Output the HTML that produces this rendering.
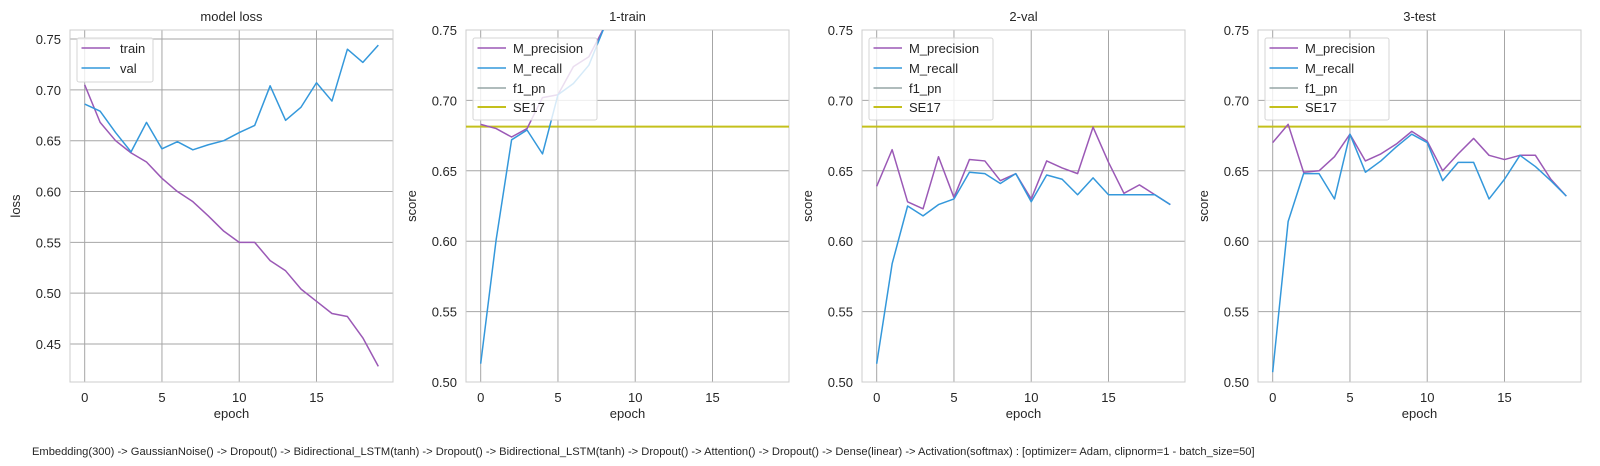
<!DOCTYPE html>
<html><head><meta charset="utf-8"><style>
html,body{margin:0;padding:0;background:#fff;}
svg{display:block;font-family:"Liberation Sans",Arial,sans-serif;}
</style></head><body>
<svg id="fig" width="1600" height="466" viewBox="0 0 1600 466">
<text x="32" y="455" font-size="11.15" fill="#262626">Embedding(300) -&gt; GaussianNoise() -&gt; Dropout() -&gt; Bidirectional_LSTM(tanh) -&gt; Dropout() -&gt; Bidirectional_LSTM(tanh) -&gt; Dropout() -&gt; Attention() -&gt; Dropout() -&gt; Dense(linear) -&gt; Activation(softmax) : [optimizer= Adam, clipnorm=1 - batch_size=50]</text>
</svg>
<script>
const epochs = [0,1,2,3,4,5,6,7,8,9,10,11,12,13,14,15,16,17,18,19];
const lossTrain = [0.705,0.668,0.650,0.638,0.629,0.613,0.600,0.590,0.576,0.561,0.550,0.550,0.532,0.522,0.504,0.492,0.480,0.477,0.456,0.428];
const lossVal = [0.686,0.679,0.658,0.639,0.668,0.642,0.649,0.641,0.646,0.650,0.658,0.665,0.704,0.670,0.683,0.707,0.689,0.740,0.727,0.744];
const trainPrec = [0.683,0.680,0.674,0.680,0.702,0.704,0.724,0.731,0.752,0.765,0.775,0.785,0.792,0.800,0.808,0.815,0.820,0.826,0.832,0.838];
const trainRec = [0.513,0.601,0.672,0.679,0.662,0.704,0.712,0.725,0.752,0.765,0.775,0.785,0.792,0.800,0.808,0.815,0.820,0.826,0.832,0.838];
const valPrec = [0.639,0.665,0.628,0.623,0.660,0.631,0.658,0.657,0.643,0.648,0.630,0.657,0.652,0.648,0.681,0.656,0.634,0.640,0.633,0.626];
const valRec = [0.513,0.584,0.625,0.618,0.626,0.630,0.649,0.648,0.641,0.648,0.628,0.647,0.644,0.633,0.645,0.633,0.633,0.633,0.633,0.626];
const testPrec = [0.670,0.683,0.649,0.650,0.660,0.676,0.657,0.662,0.669,0.678,0.671,0.650,0.662,0.673,0.661,0.658,0.661,0.661,0.644,0.632];
const testRec = [0.507,0.614,0.648,0.648,0.630,0.676,0.649,0.657,0.667,0.676,0.670,0.643,0.656,0.656,0.630,0.644,0.661,0.653,0.643,0.632];
const se17 = 0.6814;
const xTicks = [0,5,10,15];
const lossTicks = [0.45,0.50,0.55,0.60,0.65,0.70,0.75];
const scoreTicks = [0.50,0.55,0.60,0.65,0.70,0.75];

const NS='http://www.w3.org/2000/svg';
const svg=document.getElementById('fig');
const PUR='#9b59b6', BLU='#3498db', GRY='#95a5a6', YEL='#c4c01c';
function mk(tag,attrs,parent){const e=document.createElementNS(NS,tag);for(const k in attrs)e.setAttribute(k,attrs[k]);(parent||svg).appendChild(e);return e;}

const panels=[
 {key:'loss',title:'model loss',left:70,ylabel:'loss',ylabelX:20,ymin:0.4126,ymax:0.7589,ticks:lossTicks,
  series:[{n:'train',d:lossTrain,c:PUR},{n:'val',d:lossVal,c:BLU}],legend:[['train',PUR],['val',BLU]],lw:76,lh:44},
 {key:'train',title:'1-train',left:466,ylabel:'score',ylabelX:416,ymin:0.5,ymax:0.75,ticks:scoreTicks,
  series:[{n:'M_precision',d:trainPrec,c:PUR},{n:'M_recall',d:trainRec,c:BLU}],se:true,legend:[['M_precision',PUR],['M_recall',BLU],['f1_pn',GRY],['SE17',YEL]],lw:124,lh:82},
 {key:'val',title:'2-val',left:862,ylabel:'score',ylabelX:812,ymin:0.5,ymax:0.75,ticks:scoreTicks,
  series:[{n:'M_precision',d:valPrec,c:PUR},{n:'M_recall',d:valRec,c:BLU}],se:true,legend:[['M_precision',PUR],['M_recall',BLU],['f1_pn',GRY],['SE17',YEL]],lw:124,lh:82},
 {key:'test',title:'3-test',left:1258,ylabel:'score',ylabelX:1208,ymin:0.5,ymax:0.75,ticks:scoreTicks,
  series:[{n:'M_precision',d:testPrec,c:PUR},{n:'M_recall',d:testRec,c:BLU}],se:true,legend:[['M_precision',PUR],['M_recall',BLU],['f1_pn',GRY],['SE17',YEL]],lw:124,lh:82}
];
const W=323, TOP=30, BOT=382, XMIN=-0.95, XMAX=19.95;

panels.forEach(p=>{
  const g=mk('g',{});
  
  
  const xs=v=>p.left+(v-XMIN)/(XMAX-XMIN)*W;
  const ys=v=>BOT-(v-p.ymin)/(p.ymax-p.ymin)*(BOT-TOP);
  const cp='clip-'+p.key;
  const cl=mk('clipPath',{id:cp},g); mk('rect',{x:p.left,y:TOP,width:W,height:BOT-TOP},cl);
  xTicks.forEach(t=>{
    const l=mk('line',{x1:xs(t),x2:xs(t),y1:TOP,y2:BOT,stroke:'#a6a6a6','stroke-width':1},g);
     
    const tx=mk('text',{x:xs(t),y:402,'font-size':13,fill:'#262626','text-anchor':'middle'},g); tx.textContent=t;
     
  });
  p.ticks.forEach(t=>{
    const l=mk('line',{x1:p.left,x2:p.left+W,y1:ys(t),y2:ys(t),stroke:'#a6a6a6','stroke-width':1},g);
     
    const tx=mk('text',{x:p.left-9,y:ys(t)+5,'font-size':13,fill:'#262626','text-anchor':'end'},g); tx.textContent=t.toFixed(2);
     
  });
  const fr=mk('rect',{x:p.left,y:TOP,width:W,height:BOT-TOP,fill:'none',stroke:'#cccccc','stroke-width':1},g);
   
  const lines=mk('g',{'clip-path':'url(#'+cp+')'},g);
  if(p.se){
    const s=mk('line',{x1:p.left,x2:p.left+W,y1:ys(se17),y2:ys(se17),stroke:YEL,'stroke-width':2},lines);
     
  }
  p.series.forEach(s=>{
    const pts=s.d.map((v,i)=>xs(epochs[i]).toFixed(2)+','+ys(v).toFixed(2)).join(' ');
    const pl=mk('polyline',{points:pts,fill:'none',stroke:s.c,'stroke-width':1.5,'stroke-linejoin':'round'},lines);
     
  });
  const lg=mk('g',{},g);
   
  mk('rect',{x:p.left+7,y:38,width:p.lw,height:p.lh,rx:2,fill:'rgba(255,255,255,0.8)',stroke:'#d6d6d6','stroke-width':1},lg);
  const rowY=[48,68,88,107];
  p.legend.forEach((e,i)=>{
    const y=p.legend.length==2?[48,68][i]:rowY[i];
    const ln=mk('line',{x1:p.left+8+3.5,x2:p.left+8+32,y1:y,y2:y,stroke:e[1],'stroke-width':e[0]==='SE17'?2:1.5},lg);
     
    const tx=mk('text',{x:p.left+(p.legend.length==2?50:47),y:y+5,'font-size':13,fill:'#262626'},lg); tx.textContent=(e[0]==='SE17'?' ':'')+e[0];
     
  });
  const tt=mk('text',{x:p.left+W/2,y:21,'font-size':13,fill:'#262626','text-anchor':'middle'},g); tt.textContent=p.title;
   
  const xl=mk('text',{x:p.left+W/2,y:418,'font-size':13,fill:'#262626','text-anchor':'middle'},g); xl.textContent='epoch';
   
  const yl=mk('text',{x:p.ylabelX,y:206,'font-size':13,fill:'#262626','text-anchor':'middle',transform:'rotate(-90 '+p.ylabelX+' 206)'},g); yl.textContent=p.ylabel;
   
});
</script>
</body></html>
